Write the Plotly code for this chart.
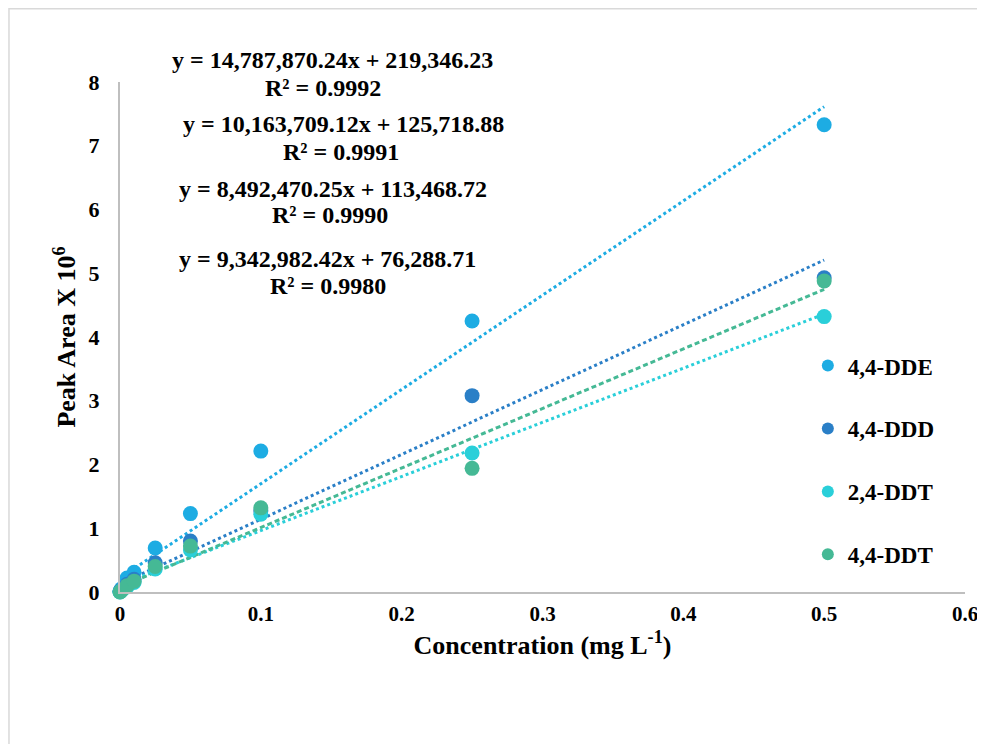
import plotly.graph_objects as go

# ---- data ----
conc = [0, 0.001, 0.005, 0.01, 0.025, 0.05, 0.1, 0.25, 0.5]
series_names = ["4,4-DDE", "4,4-DDD", "2,4-DDT", "4,4-DDT"]
dde = [0.01, 0.05, 0.22, 0.31, 0.69, 1.23, 2.21, 4.25, 7.33]
ddd = [0.01, 0.03, 0.12, 0.20, 0.46, 0.80, 1.27, 3.08, 4.93]
ddt24 = [0.0, 0.02, 0.08, 0.15, 0.36, 0.66, 1.22, 2.18, 4.32]
ddt44 = [0.0, 0.02, 0.10, 0.17, 0.40, 0.72, 1.32, 1.94, 4.88]
series_values = [dde, ddd, ddt24, ddt44]

# regression (raw units) as reported on the chart
slopes = [14787870.24, 10163709.12, 8492470.25, 9342982.42]
intercepts = [219346.23, 125718.88, 113468.72, 76288.71]
r2 = [0.9992, 0.9991, 0.9990, 0.9980]

# label positions (paper coords)
eq_x = [0.251, 0.264, 0.252, 0.246]
eq_y = [1.044, 0.918, 0.791, 0.653]
r2_x = [0.240, 0.262, 0.248, 0.246]
r2_y = [0.988, 0.862, 0.739, 0.600]

colors = ["#1DACE3", "#2A7FC7", "#2ACFD9", "#45B995"]
dashes = ["dot", "dot", "dot", "5px,3px"]

fig = go.Figure()

# trendlines
for i, name in enumerate(series_names):
    xs = [conc[0], conc[-1]]
    ys = [(slopes[i] * x + intercepts[i]) / 1e6 for x in xs]
    fig.add_trace(go.Scatter(
        x=xs, y=ys, mode="lines", showlegend=False, hoverinfo="skip",
        line=dict(color=colors[i], width=3, dash=dashes[i]),
    ))

# markers
for i, name in enumerate(series_names):
    fig.add_trace(go.Scatter(
        x=conc, y=series_values[i], mode="markers", name=name,
        legendgroup=name, cliponaxis=False,
        marker=dict(color=colors[i], size=15, line=dict(width=0)),
    ))

def fmt(v):
    return f"{v:,.2f}"

for i in range(4):
    fig.add_annotation(
        x=eq_x[i], y=eq_y[i], xref="paper", yref="paper", showarrow=False,
        text=f"y = {fmt(slopes[i])}x + {fmt(intercepts[i])}",
        xanchor="center", yanchor="middle", font=dict(size=24, color="black"),
    )
    fig.add_annotation(
        x=r2_x[i], y=r2_y[i], xref="paper", yref="paper", showarrow=False,
        text=f"R² = {r2[i]:.4f}",
        xanchor="center", yanchor="middle", font=dict(size=24, color="black"),
    )

# outer border (partially cropped)
fig.add_shape(type="rect", xref="paper", yref="paper",
              x0=-0.1314, y0=-0.5, x1=1.2, y1=1.1434,
              line=dict(color="#d9d9d9", width=1.5), fillcolor="rgba(0,0,0,0)", layer="below")

fig.update_layout(
    width=985, height=736,
    margin=dict(l=112, r=28, t=74, b=152),
    paper_bgcolor="white", plot_bgcolor="white",
    font=dict(family="Liberation Serif", color="black", weight="bold"),
    showlegend=True,
    legend=dict(x=0.814, y=0.486, xanchor="left", yanchor="top",
                font=dict(size=23), tracegroupgap=30, itemsizing="constant",
                bgcolor="rgba(0,0,0,0)"),
    xaxis=dict(range=[0, 0.6], dtick=0.1, tick0=0, showgrid=False, zeroline=False,
               showline=True, linecolor="#bfbfbf", linewidth=2,
               tickfont=dict(size=21), ticklabelstandoff=2, ticklabeloverflow="allow",
               title=dict(text="Concentration (mg L<sup>-1</sup>)", font=dict(size=26), standoff=11)),
    yaxis=dict(range=[0, 8], dtick=1, showgrid=False, zeroline=False,
               showline=True, linecolor="#bfbfbf", linewidth=2,
               tickfont=dict(size=22), ticklabelstandoff=14,
               title=dict(text="Peak Area X 10<sup>6</sup>", font=dict(size=26), standoff=5)),
)

fig.write_html("out.html")
